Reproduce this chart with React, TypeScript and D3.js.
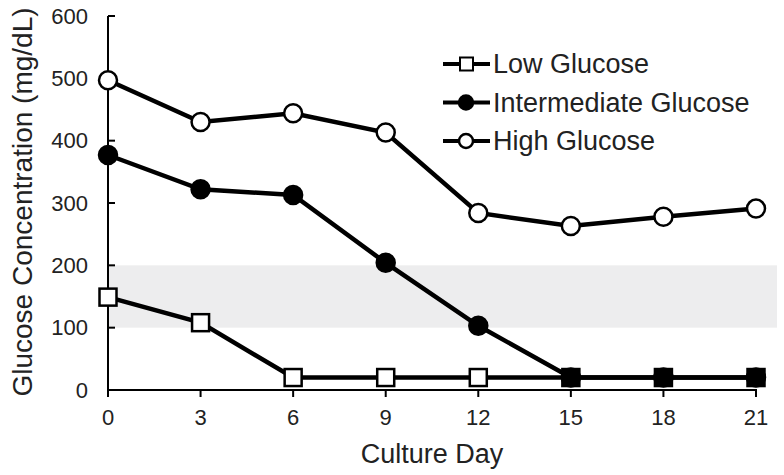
import React from "react";
import * as d3 from "d3";

const days = [0, 3, 6, 9, 12, 15, 18, 21];
const lowGlucose = [149, 108, 20, 20, 20, 20, 20, 20];
const intermediateGlucose = [377, 322, 313, 204, 103, 20, 20, 20];
const highGlucose = [497, 430, 444, 413, 284, 263, 278, 291];
const yTicks = [0, 100, 200, 300, 400, 500, 600];
const xTicks = [0, 3, 6, 9, 12, 15, 18, 21];
const bandRange = [100, 200];
const legendLabels = ["Low Glucose", "Intermediate Glucose", "High Glucose"];

const W = 784;
const H = 475;
const FONT = "'Liberation Sans', Arial, Helvetica, sans-serif";

export default function App() {
  const x = d3.scaleLinear().domain([0, 21]).range([108, 756]);
  const y = d3.scaleLinear().domain([0, 600]).range([390, 16]);
  const line = d3
    .line<number>()
    .x((_, i) => x(days[i]))
    .y((v) => y(v));

  const stroke = "#000";
  const lw = 4.5;

  return (
    <svg
      width={W}
      height={H}
      style={{ position: "absolute", left: 0, top: 0, background: "#fff" }}
      fontFamily={FONT}
    >
      <rect x={0} y={0} width={W} height={H} fill="#fff" />
      {/* reference band */}
      <rect
        x={x(0)}
        y={y(bandRange[1])}
        width={777 - x(0)}
        height={y(bandRange[0]) - y(bandRange[1])}
        fill="#ededee"
      />
      {/* axes */}
      <line x1={x(0)} x2={x(0)} y1={y(600)} y2={y(0) + 1} stroke={stroke} strokeWidth={2} />
      <line x1={x(0) - 1} x2={x(21) + 1} y1={y(0)} y2={y(0)} stroke={stroke} strokeWidth={2} />
      {yTicks.map((t) => (
        <g key={"y" + t}>
          <line x1={x(0)} x2={x(0) + 7} y1={y(t)} y2={y(t)} stroke={stroke} strokeWidth={2} />
          <text
            x={88}
            y={y(t)}
            textAnchor="end"
            dominantBaseline="central"
            fontSize={22}
            fill="#222"
          >
            {t}
          </text>
        </g>
      ))}
      {xTicks.map((t) => (
        <g key={"x" + t}>
          <line x1={x(t)} x2={x(t)} y1={y(0)} y2={y(0) + 7} stroke={stroke} strokeWidth={2} />
          <text
            x={x(t)}
            y={417}
            textAnchor="middle"
            dominantBaseline="central"
            fontSize={22}
            fill="#222"
          >
            {t}
          </text>
        </g>
      ))}
      <text x={432} y={454} textAnchor="middle" dominantBaseline="central" fontSize={27} fill="#222">
        Culture Day
      </text>
      <text
        transform={`translate(22,202) rotate(-90)`}
        textAnchor="middle"
        dominantBaseline="central"
        fontSize={28}
        fill="#222"
      >
        Glucose Concentration (mg/dL)
      </text>

      {/* lines */}
      <path d={line(highGlucose) || ""} fill="none" stroke={stroke} strokeWidth={lw} />
      <path d={line(intermediateGlucose) || ""} fill="none" stroke={stroke} strokeWidth={lw} />
      <path d={line(lowGlucose) || ""} fill="none" stroke={stroke} strokeWidth={lw} />

      {/* markers */}
      {highGlucose.map((v, i) => (
        <circle key={"h" + i} cx={x(days[i])} cy={y(v)} r={9} fill="#fff" stroke={stroke} strokeWidth={2.5} />
      ))}
      {intermediateGlucose.map((v, i) => (
        <circle key={"m" + i} cx={x(days[i])} cy={y(v)} r={9} fill="#000" stroke={stroke} strokeWidth={2.5} />
      ))}
      {lowGlucose.map((v, i) => (
        <rect
          key={"l" + i}
          x={x(days[i]) - 8.5}
          y={y(v) - 8.5}
          width={17}
          height={17}
          fill={v === intermediateGlucose[i] ? "#000" : "#fff"}
          stroke={stroke}
          strokeWidth={2.5}
        />
      ))}

      {/* legend */}
      {legendLabels.map((lab, i) => {
        const cy = 64 + i * 38.5;
        return (
          <g key={lab}>
            <line x1={443} x2={490} y1={cy} y2={cy} stroke={stroke} strokeWidth={4} />
            {i === 0 ? (
              <rect x={460} y={cy - 6.5} width={13} height={13} fill="#fff" stroke={stroke} strokeWidth={2} />
            ) : (
              <circle cx={466} cy={cy} r={7} fill={i === 1 ? "#000" : "#fff"} stroke={stroke} strokeWidth={2.5} />
            )}
            <text x={493} y={cy} dominantBaseline="central" fontSize={27} fill="#222">
              {lab}
            </text>
          </g>
        );
      })}
    </svg>
  );
}
